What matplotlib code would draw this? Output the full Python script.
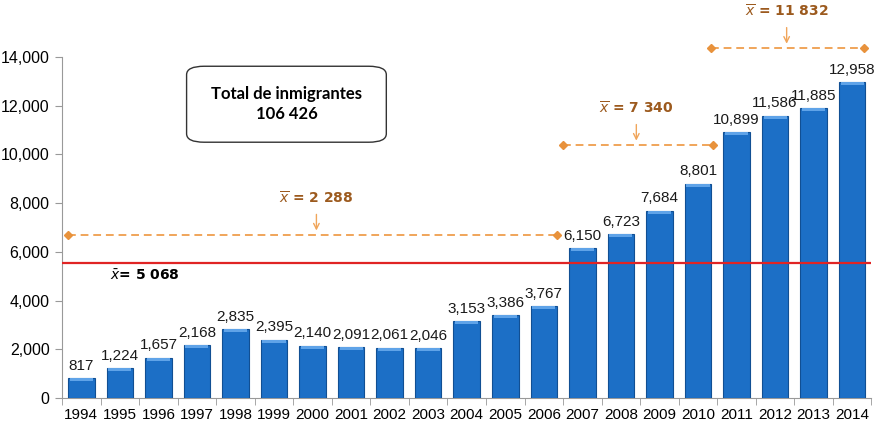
import matplotlib.pyplot as plt
import numpy as np
from matplotlib.patches import FancyBboxPatch

# data
years = [str(y) for y in range(1994, 2015)]
immigrants = [817, 1224, 1657, 2168, 2835, 2395, 2140, 2091, 2061, 2046,
              3153, 3386, 3767, 6150, 6723, 7684, 8801, 10899, 11586, 11885, 12958]
value_labels = ['{:,}'.format(v) for v in immigrants]

# period means (x start, x end in category units, level, label)
period_starts = [-0.35, 12.5, 16.35]
period_ends = [12.33, 16.4, 20.3]
period_levels = [6700, 10390, 14370]
period_labels = ['$\\overline{x}$ = 2 288', '$\\overline{x}$ = 7 340', '$\\overline{x}$ = 11 832']
label_x = [6.1, 14.4, 18.3]

overall_level = 5540
overall_label = '$\\bar{x}$= 5 068'
total_text = 'Total de inmigrantes\n106 426'

plt.rcParams['mathtext.fontset'] = 'dejavusans'
NARROW = ['Liberation Sans Narrow', 'Liberation Sans', 'DejaVu Sans']

fig = plt.figure(figsize=(8.76, 4.22), dpi=100)
ax = fig.add_axes([0.0708, 0.057, 0.924, 0.808])

x = np.arange(len(years))
ax.bar(x, immigrants, width=0.69, color='#1c6fc6', edgecolor='#114f93', linewidth=0.8, zorder=3)
# light top edge on each bar
ax.bar(x, [120] * len(x), bottom=np.array(immigrants) - 120, width=0.6,
       color='#5fa3e8', linewidth=0, zorder=4)

for xi, v, lab in zip(x, immigrants, value_labels):
    ax.text(xi, v + 220, lab, ha='center', va='bottom', fontsize=11,
            family=NARROW, color='#1a1a1a')

ax.set_xlim(-0.5, len(years) - 0.5)
ax.set_ylim(0, 14000)
ax.set_yticks(range(0, 14001, 2000))
ax.set_yticklabels(['{:,}'.format(v) for v in range(0, 14001, 2000)],
                   family=NARROW, fontsize=11.5)
ax.set_xticks(x)
ax.set_xticklabels(years, family=NARROW, fontsize=11)
ax.set_xticks(np.arange(-0.5, len(years), 1), minor=True)
ax.tick_params(axis='x', which='major', length=0, pad=7)
ax.tick_params(axis='x', which='minor', length=5, color='#999999')
ax.tick_params(axis='y', length=5, color='#999999', pad=4)
for s in ['top', 'right']:
    ax.spines[s].set_visible(False)
for s in ['left', 'bottom']:
    ax.spines[s].set_color('#999999')

# overall mean line
ax.axhline(overall_level, color='#e02424', linewidth=1.6, zorder=5)
ax.text(0.75, overall_level - 200, overall_label, ha='left', va='top',
        fontsize=10, fontweight='bold', color='black', zorder=6)

# period means
for x0, x1, lvl, lab, lx in zip(period_starts, period_ends, period_levels, period_labels, label_x):
    ax.plot([x0, x1], [lvl, lvl], linestyle=(0, (4, 2.5)), color='#f0a55a',
            linewidth=1.4, clip_on=False, zorder=5)
    ax.plot([x0, x1], [lvl, lvl], linestyle='none', marker='D', markersize=4.5,
            color='#e8923c', clip_on=False, zorder=6)
    ax.annotate('', xy=(lx, lvl + 60), xytext=(lx, lvl + 950),
                arrowprops=dict(arrowstyle='->', color='#f0a55a', lw=1.0),
                annotation_clip=False)
    ax.text(lx, lvl + 1150, lab, ha='center', va='bottom', fontsize=10,
            fontweight='bold', color='#9c5a1e', clip_on=False)

# total box
box = FancyBboxPatch((0.213, 0.663), 0.228, 0.18, boxstyle='round,pad=0,rounding_size=0.02',
                     transform=fig.transFigure, facecolor='white', edgecolor='#333333',
                     linewidth=1.0, zorder=7)
fig.patches.append(box)
fig.text(0.327, 0.753, total_text, ha='center', va='center', fontsize=12,
         fontweight='bold', family=['Lato', 'DejaVu Sans'], linespacing=1.3, zorder=8)

fig.savefig('out.png', dpi=100)
